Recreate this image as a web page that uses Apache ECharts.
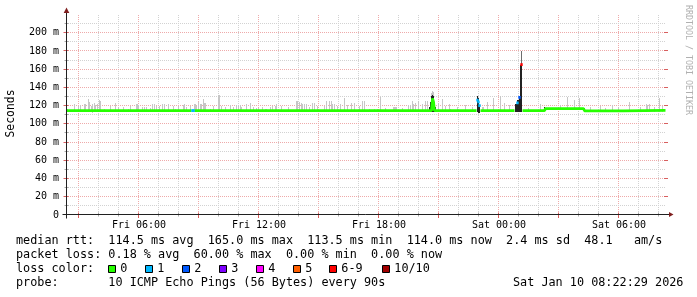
<!DOCTYPE html>
<html><head><meta charset="utf-8">
<script src="https://cdn.jsdelivr.net/npm/echarts@6/dist/echarts.min.js"></script>
<style>html,body{margin:0;padding:0;background:#fff}#c{width:697px;height:297px}</style>
</head><body><div id="c"></div>
<script>
// Time unit: minutes since Fri 00:00
const timeStart = 142.5, timeEnd = 1942.5;
const yMin = 0, yMax = 219.4;

// Median RTT (ms) with loss level index
const medianTimes  = [144,219,222,225,519,522,525,528,960,963,966,1137,1140,1143,1239,1242,1245,1248,1374,1377,1380,1383,1386,1488,1497,1503,1509,1512,1578,1581,1695,1698,1815,1818,1941];
const medianValues = [114.5,114.5,113.3,114.5,114.5,114.5,114.5,114.5,114.5,113.5,114.5,114.5,113.3,114.5,114.5,128,124,114.5,114.5,126,124,120,114.5,114.5,123,129,165,114.5,114.5,116.8,116.8,114.3,114.3,114.8,114.8];
const medianLoss   = [0,0,0,0,0,1,1,0,0,0,0,0,0,0,0,0,0,0,0,1,1,1,0,0,1,2,6,0,0,0,0,0,0,0,0];

// Light smoke (ping spread tops, ms)
const smokeTimes = [147,168,180,186,198,201,210,213,219,222,228,231,237,243,246,258,276,291,300,315,330,336,354,357,360,372,378,384,396,402,408,414,423,432,438,450,465,471,480,495,498,504,516,528,531,534,540,546,549,555,558,561,576,585,600,603,609,621,636,645,654,660,666,669,684,696,705,714,720,732,741,744,756,762,771,774,789,810,834,837,843,849,852,858,864,873,882,888,897,918,924,933,939,942,948,957,966,978,987,999,1008,1023,1032,1038,1053,1068,1077,1086,1101,1125,1128,1131,1134,1152,1170,1176,1182,1185,1191,1200,1212,1221,1227,1239,1242,1245,1260,1272,1281,1293,1296,1317,1341,1362,1392,1395,1407,1425,1446,1458,1473,1530,1566,1626,1647,1668,1683,1716,1746,1761,1782,1800,1833,1866,1884,1887,1893,1908,1923,1932];
const smokeTops  = [116.6,121.8,119.3,120.7,121.8,121.8,127.3,124.0,119.6,122.3,122.9,121.0,121.8,125.9,125.0,116.6,120.0,122.9,118.5,119.0,116.6,119.6,121.8,121.8,120.5,118.5,118.5,118.0,117.4,121.8,122.0,119.6,119.6,121.8,121.8,121.8,120.0,116.6,119.6,121.0,121.8,118.5,119.6,121.8,121.8,119.6,124.0,121.8,121.8,127.3,122.9,122.9,116.6,120.0,131.3,131.3,119.6,118.0,121.0,118.0,121.0,121.0,121.0,118.5,121.8,122.9,118.5,117.4,117.4,118.0,116.6,116.6,118.5,119.6,119.6,121.8,119.6,118.0,125.4,125.4,124.0,122.9,121.8,121.8,121.8,118.5,122.9,122.9,119.6,119.6,124.7,124.7,124.7,121.8,121.8,119.6,121.8,128.4,121.0,122.9,122.9,119.6,125.4,125.4,116.6,116.6,116.6,129.5,117.0,118.5,118.5,118.5,118.5,117.0,121.0,121.0,124.6,121.8,122.9,124.7,121.8,124.7,124.7,134.0,136.0,135.0,122.9,127.3,119.6,121.8,116.6,118.5,121.0,118.5,119.0,119.0,124.5,128.4,130.6,123.2,120.7,117.9,121.4,121.0,128.9,126.2,128.4,118.0,119.6,117.4,120.7,118.0,124.0,118.0,121.8,120.7,121.8,119.0,128.4,119.6];

// Dark smoke around the loss spikes (ms)
const darkTimes = [645,1233,1236,1239,1242,1245,1248,1251,1377,1380,1383,1491,1494,1497,1500,1503,1506,1509,1578,1698];
const darkLows  = [113.5,113,113,113,113,113,113,113,113,112,112,113,113,113,113,113,113,113,114,113];
const darkTops  = [115.5,118,124,131,132,130,124,118,130,128,121,122,122,126,126,129,165,165,118.5,117];

// Grey tip of the tall spike
const midTimes = [1509];
const midLows  = [165];
const midTops  = [180];

// Axes
const hourTicks = [180,240,300,360,420,480,540,600,660,720,780,840,900,960,1020,1080,1140,1200,1260,1320,1380,1440,1500,1560,1620,1680,1740,1800,1860,1920];
const xLabelTimes = [360,720,1080,1440,1800];
const xLabelTexts = ['Fri 06:00','Fri 12:00','Fri 18:00','Sat 00:00','Sat 06:00'];
const yMajorValues = [20,40,60,80,100,120,140,160,180,200];
const yMinorValues = [10,30,50,70,90,110,130,150,170,190,210];

// Loss legend
const lossLevels = ['0','1','2','3','4','5','6-9','10/10'];
const lossColors = ['#26ff00','#00b8ff','#0059ff','#7e00ff','#ff00ff','#ff5f00','#ff0000','#a10000'];

const MONO = '"DejaVu Sans Mono"';
const GRIDC = '#d2d2d2', MGRIDC = '#eeaaaa', AXISC = '#202020', ARROWC = '#7f1f1f';

function medianAt(t){
  let v = medianValues[0];
  for (let i=0;i<medianTimes.length;i++){ if (medianTimes[i] <= t) v = medianValues[i]; }
  return v;
}

const greenData = medianTimes.map((t,i)=> medianLoss[i]===0 ? [t, medianValues[i]] : [t, null]);
const lossDots = [];
medianTimes.forEach((t,i)=>{ if (medianLoss[i]>0) lossDots.push([t, medianValues[i], medianLoss[i]]); });

function colRect(api, t, lo, hi){
  const a = api.coord([t-1.5, hi]);
  const b = api.coord([t+1.5, lo]);
  const x = Math.round(a[0]);
  const y = Math.round(a[1]);
  return {x:x, y:y, width:Math.max(1, Math.round(b[0])-x), height:Math.max(1, Math.round(b[1])-y)};
}

function gridRender(params, api){
  if (params.dataIndex !== 0) return null;
  const cs = params.coordSys;
  const top = cs.y, bottom = cs.y + cs.height, left = cs.x, right = cs.x + cs.width;
  const ch = [];
  hourTicks.forEach(t=>{
    const x = Math.floor(api.coord([t,0])[0]) + 0.5;
    const major = t % 180 === 0;
    ch.push({type:'line', shape:{x1:x,y1:top,x2:x,y2:bottom}, style:{stroke: major?MGRIDC:GRIDC, lineWidth:1, lineDash:[1,1]}});
  });
  yMinorValues.forEach(v=>{
    const y = Math.floor(api.coord([timeStart,v])[1]) + 0.5;
    ch.push({type:'line', shape:{x1:left,y1:y,x2:right,y2:y}, style:{stroke:GRIDC, lineWidth:1, lineDash:[1,1]}});
  });
  yMajorValues.forEach(v=>{
    const y = Math.floor(api.coord([timeStart,v])[1]) + 0.5;
    ch.push({type:'line', shape:{x1:left,y1:y,x2:right,y2:y}, style:{stroke:MGRIDC, lineWidth:1, lineDash:[1,1]}});
  });
  return {type:'group', children:ch};
}

function frameRender(params, api){
  if (params.dataIndex !== 0) return null;
  const cs = params.coordSys;
  const top = cs.y, left = cs.x, right = cs.x + cs.width;
  const x0 = Math.floor(api.coord([timeStart,0])[0]) + 0.5;
  const y0 = Math.floor(api.coord([timeStart,0])[1]) - 0.5;
  const ch = [];
  hourTicks.forEach(t=>{
    const x = Math.floor(api.coord([t,0])[0]) + 0.5;
    const major = t % 180 === 0;
    if (major) {
      ch.push({type:'line', shape:{x1:x,y1:y0-2,x2:x,y2:y0+3.5}, style:{stroke:'#d86060', lineWidth:1}});
    } else {
      ch.push({type:'line', shape:{x1:x,y1:y0-2,x2:x,y2:y0+2}, style:{stroke:'#a8a8a8', lineWidth:1}});
    }
  });
  yMajorValues.forEach(v=>{
    const y = Math.floor(api.coord([timeStart,v])[1]) + 0.5;
    ch.push({type:'line', shape:{x1:x0-3,y1:y,x2:x0+2,y2:y}, style:{stroke:'#d86060', lineWidth:1}});
    ch.push({type:'line', shape:{x1:right-2,y1:y,x2:right+2,y2:y}, style:{stroke:'#d86060', lineWidth:1}});
  });
  yMinorValues.forEach(v=>{
    const y = Math.floor(api.coord([timeStart,v])[1]) + 0.5;
    ch.push({type:'line', shape:{x1:x0-2,y1:y,x2:x0+2,y2:y}, style:{stroke:'#a8a8a8', lineWidth:1}});
  });
  ch.push({type:'line', shape:{x1:x0,y1:y0+4,x2:x0,y2:top-2}, style:{stroke:AXISC, lineWidth:1}});
  ch.push({type:'line', shape:{x1:x0-4,y1:y0,x2:right+3,y2:y0}, style:{stroke:AXISC, lineWidth:1}});
  ch.push({type:'polygon', shape:{points:[[x0,top-7.5],[x0-2.8,top-2],[x0+2.8,top-2]]}, style:{fill:ARROWC}});
  ch.push({type:'polygon', shape:{points:[[right+7.5,y0],[right+3,y0-2.6],[right+3,y0+2.6]]}, style:{fill:ARROWC}});
  xLabelTimes.forEach((t,i)=>{
    const p = api.coord([t,0]);
    ch.push({type:'text', x:p[0]+0.5, y:p[1]+10, style:{text:xLabelTexts[i], font:'10px '+MONO, fill:'#000', align:'center', verticalAlign:'middle', textAlign:'center', textVerticalAlign:'middle'}});
  });
  return {type:'group', children:ch};
}

const legendBoxX = [108,145,182,219,256,293,329,382];
const graphics = [];
const rowY = [241.4, 255.3, 269.2, 283.1];
function txt(x,y,s,size,color,rot,align){
  return {type:'text', x:x, y:y, rotation:rot||0, silent:true,
    style:{text:s, font:(size||11.8)+'px '+MONO, fill:color||'#000', align:align||'left', textAlign:align||'left', verticalAlign:'middle', textVerticalAlign:'middle'}};
}
graphics.push(txt(16,rowY[0],'median rtt:  114.5 ms avg  165.0 ms max  113.5 ms min  114.0 ms now  2.4 ms sd  48.1   am/s'));
graphics.push(txt(16,rowY[1],'packet loss: 0.18 % avg  60.00 % max  0.00 % min  0.00 % now'));
graphics.push(txt(16,rowY[2],'loss color:'));
lossLevels.forEach((lv,i)=>{
  graphics.push({type:'rect', silent:true, shape:{x:legendBoxX[i]+0.5, y:265.5, width:7, height:7}, style:{fill:lossColors[i], stroke:'#000', lineWidth:1}});
  graphics.push(txt(legendBoxX[i]+12.3,rowY[2],lv));
});
graphics.push(txt(16,rowY[3],'probe:       10 ICMP Echo Pings (56 Bytes) every 90s'));
graphics.push(txt(513,rowY[3],'Sat Jan 10 08:22:29 2026'));
graphics.push(txt(11,113.5,'Seconds',11.4,'#000',Math.PI/2,'center'));
graphics.push(txt(688,60,'RRDTOOL / TOBI OETIKER',8.3,'#b0b0b0',-Math.PI/2,'center'));

const chart = echarts.init(document.getElementById('c'), null, {renderer:'canvas', width:697, height:297});
chart.setOption({
  animation:false,
  backgroundColor:'#ffffff',
  grid:{left:66, top:15, width:600, height:200, containLabel:false},
  xAxis:{type:'value', min:timeStart, max:timeEnd, axisLine:{show:false}, axisTick:{show:false}, axisLabel:{show:false}, splitLine:{show:false}},
  yAxis:{type:'value', min:yMin, max:yMax, interval:20,
    axisLine:{show:false}, axisTick:{show:false}, splitLine:{show:false},
    axisLabel:{margin:7, color:'#000', fontFamily:'DejaVu Sans Mono', fontSize:10,
      formatter:v=> (Math.abs(v%20)>1e-6 ? '' : (v===0 ? '0' : v+' m'))}},
  graphic:{elements:graphics},
  series:[
    {type:'custom', name:'grid', z:1, clip:false, silent:true, data:[[timeStart,0]], renderItem:gridRender},
    {type:'custom', name:'smoke', z:2, silent:true, data:smokeTimes.map((t,i)=>[t,smokeTops[i]]),
      renderItem:(p,api)=>{const t=api.value(0); return {type:'rect', shape:colRect(api,t,medianAt(t)-1.5,api.value(1)), style:{fill:'#c6c6c6'}};}},
    {type:'custom', name:'midsmoke', z:3, silent:true, data:midTimes.map((t,i)=>[t,midLows[i],midTops[i]]),
      renderItem:(p,api)=>({type:'rect', shape:colRect(api,api.value(0),api.value(1),api.value(2)), style:{fill:'#6e6e6e'}})},
    {type:'custom', name:'darksmoke', z:3, silent:true, data:darkTimes.map((t,i)=>[t,darkLows[i],darkTops[i]]),
      renderItem:(p,api)=>({type:'rect', shape:colRect(api,api.value(0),api.value(1),api.value(2)), style:{fill:'#222222'}})},
    {type:'line', name:'median', z:4, silent:true, data:greenData, showSymbol:false, connectNulls:false,
      lineStyle:{color:lossColors[0], width:2.8}},
    {type:'custom', name:'lossdots', z:5, silent:true, data:lossDots,
      renderItem:(p,api)=>{const c=api.coord([api.value(0),api.value(1)]); return {type:'rect', shape:{x:c[0]-1.2,y:c[1]-1.4,width:2.4,height:2.8}, style:{fill:lossColors[api.value(2)]}};}},
    {type:'custom', name:'frame', z:6, clip:false, silent:true, data:[[timeStart,0]], renderItem:frameRender}
  ]
});
</script>
</body></html>
